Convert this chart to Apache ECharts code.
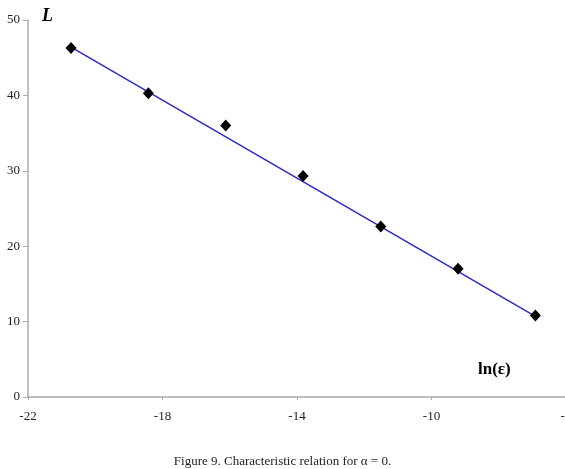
<!DOCTYPE html>
<html>
<head>
<meta charset="utf-8">
<script src="https://cdn.jsdelivr.net/npm/echarts@6/dist/echarts.min.js"></script>
<style>
  html, body { margin: 0; padding: 0; background: #fff; }
  #chart { width: 565px; height: 469px; }
</style>
</head>
<body>
<div id="chart"></div>
<script>
// measured points, ln(eps) vs L
const lnEps = [-20.72, -18.42, -16.12, -13.82, -11.51, -9.21, -6.91]
const lValues = [46.3, 40.3, 36.0, 29.3, 22.6, 17.0, 10.8]
// trend line end points
const fitLine = [[-20.72, 46.4], [-6.91, 10.7]]
const xTicks = [-22, -18, -14, -10, -6]
const yTicks = [0, 10, 20, 30, 40, 50]

const serif = '"Liberation Serif", "DejaVu Serif", serif'

const chart = echarts.init(document.getElementById('chart'), null, { renderer: 'canvas' })

chart.setOption({
  backgroundColor: '#fff',
  animation: false,
  grid: { left: 28, right: -1, top: 20, bottom: 72, containLabel: false, outerBoundsMode: 'none' },
  xAxis: {
    type: 'value',
    min: xTicks[0],
    max: xTicks[xTicks.length - 1],
    axisLine: { onZero: false, lineStyle: { color: '#ababab', width: 1.5 } },
    axisTick: { show: true, customValues: xTicks, length: 3, lineStyle: { color: '#ababab' } },
    axisLabel: {
      customValues: xTicks,
      color: '#222',
      fontFamily: serif,
      fontSize: 13,
      margin: 13,
      hideOverlap: false,
    },
    splitLine: { show: false },
  },
  yAxis: {
    type: 'value',
    min: yTicks[0],
    max: yTicks[yTicks.length - 1],
    axisLine: { show: true, onZero: false, lineStyle: { color: '#ababab', width: 1.5 } },
    axisTick: { show: true, customValues: yTicks, length: 5, lineStyle: { color: '#ababab' } },
    axisLabel: {
      customValues: yTicks,
      color: '#222',
      fontFamily: serif,
      fontSize: 13,
      margin: 8,
    },
    splitLine: { show: false },
  },
  series: [
    {
      type: 'line',
      data: fitLine,
      symbol: 'none',
      lineStyle: { color: '#2b2bc4', width: 1.5 },
      z: 2,
    },
    {
      type: 'scatter',
      data: lnEps.map((x, i) => [x, lValues[i]]),
      symbol: 'diamond',
      symbolSize: [11, 12],
      itemStyle: { color: '#000', opacity: 1 },
      z: 3,
    },
  ],
  graphic: [
    {
      type: 'text',
      left: 42,
      top: 7,
      style: { text: 'L', font: 'italic bold 18px ' + serif, fill: '#000' },
    },
    {
      type: 'text',
      left: 478,
      top: 361,
      style: { text: 'ln(ε)', font: 'bold 17px ' + serif, fill: '#000' },
    },
    {
      type: 'text',
      left: 'center',
      top: 455,
      style: { text: 'Figure 9. Characteristic relation for α = 0.', font: '13px ' + serif, fill: '#222' },
    },
  ],
})
</script>
</body>
</html>
